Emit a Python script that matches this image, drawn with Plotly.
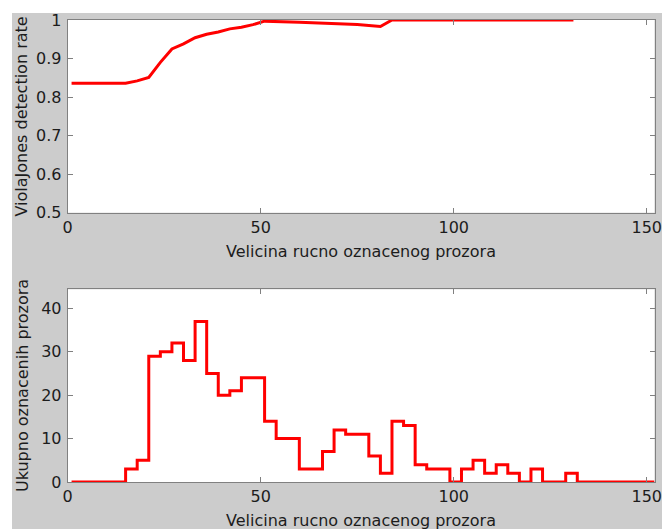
import plotly.graph_objects as go

W, H = 663, 529

# Detection rate as a function of the hand-labelled window size
rate_size = [1, 15, 18, 21, 24, 27, 30, 33, 36, 39, 42, 45, 48, 51, 60, 69, 75, 81, 84, 131]
rate_value = [0.836, 0.836, 0.842, 0.851, 0.890, 0.925, 0.938, 0.954, 0.963, 0.969,
              0.977, 0.981, 0.988, 0.997, 0.994, 0.991, 0.988, 0.983, 1.0, 1.0]

# Histogram of labelled windows (bins of width 3)
bin_left = [1, 3, 6, 9, 12, 15, 18, 21, 24, 27, 30, 33, 36, 39, 42, 45, 48, 51, 54, 57,
            60, 63, 66, 69, 72, 75, 78, 81, 84, 87, 90, 93, 96, 99, 102, 105, 108, 111,
            114, 117, 120, 123, 126, 129, 132, 135, 138, 141, 144, 147, 152]
bin_count = [0, 0, 0, 0, 0, 3, 5, 29, 30, 32, 28, 37, 25, 20, 21, 24, 24, 14, 10, 10,
             3, 3, 7, 12, 11, 11, 6, 2, 14, 13, 4, 3, 3, 0, 3, 5, 2, 4,
             2, 0, 3, 0, 0, 2, 0, 0, 0, 0, 0, 0, 0]

x_ticks = [0, 50, 100, 150]
rate_ticks = [0.5, 0.6, 0.7, 0.8, 0.9, 1]
rate_tick_text = ["0.5", "0.6", "0.7", "0.8", "0.9", "1"]
count_ticks = [0, 10, 20, 30, 40]

FONT = "DejaVu Sans"
RED = "#ff0000"
FRAME = "#808080"
TEXT = "#1c1c1c"


def px(x):
    """Pixel column -> paper fraction."""
    return x / W


def py(y):
    """Pixel row (from the top) -> paper fraction."""
    return 1 - y / H


fig = go.Figure()
fig.add_trace(go.Scatter(x=rate_size, y=rate_value, mode="lines",
                         line=dict(color=RED, width=3), xaxis="x", yaxis="y",
                         showlegend=False, hoverinfo="skip"))
fig.add_trace(go.Scatter(x=bin_left, y=bin_count, mode="lines",
                         line=dict(color=RED, width=3, shape="hv"), xaxis="x2", yaxis="y2",
                         showlegend=False, hoverinfo="skip"))

x_dom = [px(67.7), px(654.5)]
axis_common = dict(showline=True, linecolor=FRAME, linewidth=1, mirror="ticks",
                   ticks="inside", ticklen=5, tickcolor=FRAME, tickwidth=1,
                   showgrid=False, zeroline=False,
                   tickfont=dict(family=FONT, size=16, color=TEXT))

fig.update_layout(
    width=W, height=H,
    margin=dict(l=0, r=0, t=0, b=0, autoexpand=False),
    paper_bgcolor="#cccccc",
    plot_bgcolor="white",
    xaxis=dict(domain=x_dom, range=[0, 152], tickvals=x_ticks, anchor="y",
               ticklabelstandoff=0, **axis_common),
    yaxis=dict(domain=[py(212.7), py(20)], range=[0.5, 1], tickvals=rate_ticks,
               ticktext=rate_tick_text, anchor="x", ticklabelstandoff=2, **axis_common),
    xaxis2=dict(domain=x_dom, range=[0, 152], tickvals=x_ticks, anchor="y2",
                ticklabelstandoff=0, **axis_common),
    yaxis2=dict(domain=[py(482), py(289.3)], range=[0, 44.4], tickvals=count_ticks,
                anchor="x2", ticklabelstandoff=2, **axis_common),
    shapes=[
        dict(type="rect", xref="paper", yref="paper", x0=0, x1=1, y0=py(13), y1=1,
             fillcolor="white", line=dict(width=0), layer="below"),
        dict(type="rect", xref="paper", yref="paper", x0=0, x1=px(12), y0=0, y1=1,
             fillcolor="white", line=dict(width=0), layer="below"),
        dict(type="rect", xref="paper", yref="paper", x0=px(662), x1=1, y0=0, y1=1,
             fillcolor="white", line=dict(width=0), layer="below"),
    ],
)

label_font = dict(family=FONT, size=16, color=TEXT)
fig.add_annotation(text="Velicina rucno oznacenog prozora", xref="paper", yref="paper",
                   x=px(361.2), y=py(251.5), showarrow=False, xanchor="center",
                   yanchor="middle", font=label_font)
fig.add_annotation(text="Velicina rucno oznacenog prozora", xref="paper", yref="paper",
                   x=px(361.2), y=py(520), showarrow=False, xanchor="center",
                   yanchor="middle", font=label_font)
fig.add_annotation(text="ViolaJones detection rate", xref="paper", yref="paper",
                   x=px(20.5), y=py(117), showarrow=False, textangle=-90,
                   xanchor="center", yanchor="middle", font=label_font)
fig.add_annotation(text="Ukupno oznacenih prozora", xref="paper", yref="paper",
                   x=px(22.5), y=py(385.5), showarrow=False, textangle=-90,
                   xanchor="center", yanchor="middle", font=label_font)

fig.write_html("out.html")
